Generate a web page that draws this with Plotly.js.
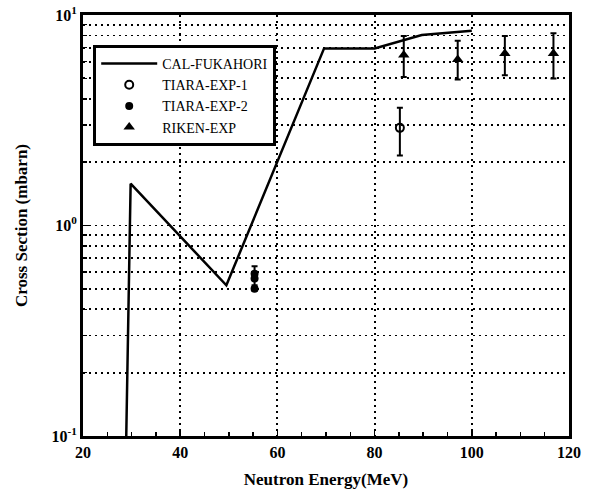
<!DOCTYPE html>
<html>
<head>
<meta charset="utf-8">
<script src="https://cdn.plot.ly/plotly-3.0.1.min.js"></script>
<style>html,body{margin:0;padding:0;background:#fff;}#chart{width:591px;height:493px;}</style>
</head>
<body>
<div id="chart"></div>
<script>
// CAL-FUKAHORI calculated curve
const calE = [28.9, 29.8, 49.5, 69.6, 80.0, 89.7, 100.0];
const calXS = [0.10, 1.58, 0.52, 6.94, 6.94, 8.03, 8.42];

// TIARA-EXP-1
const t1E = [85.2];
const t1XS = [2.91];
const t1ErrUp = [0.72];
const t1ErrDn = [0.76];

// TIARA-EXP-2
const t2E = [55.3, 55.3, 55.3];
const t2XS = [0.59, 0.56, 0.50];
const t2ErrUp = [0.05, 0.04, 0.01];
const t2ErrDn = [0.03, 0.04, 0.01];

// RIKEN-EXP
const rkE = [86.0, 97.1, 106.8, 116.8];
const rkXS = [6.45, 6.15, 6.57, 6.57];
const rkErrUp = [1.49, 1.40, 1.37, 1.61];
const rkErrDn = [1.37, 1.21, 1.39, 1.58];

// axis ticks
const xTicks = [20, 40, 60, 80, 100, 120];
const xTickText = ['20', '40', '60', '80', '100', '120'];
const yTickVals = [0.1, 1, 10];
const yTickText = ['10<sup>-1</sup>', '10<sup>0</sup>', '10<sup>1</sup>'];
const yMinorVals = [0.2,0.3,0.4,0.5,0.6,0.7,0.8,0.9,2,3,4,5,6,7,8,9];

const serif = '"Liberation Serif", "Times New Roman", Times, serif';
const dots = '2px,4px';

const traces = [
  {x: calE, y: calXS, mode: 'lines', name: 'CAL-FUKAHORI',
   line: {color: '#000', width: 2.5}},
  {x: t1E, y: t1XS, mode: 'markers', name: 'TIARA-EXP-1',
   marker: {symbol: 'circle-open', size: 8, color: '#000', line: {width: 2, color: '#000'}},
   error_y: {type: 'data', symmetric: false, array: t1ErrUp, arrayminus: t1ErrDn, color: '#000', thickness: 2, width: 3}},
  {x: t2E, y: t2XS, mode: 'markers', name: 'TIARA-EXP-2',
   marker: {symbol: 'circle', size: 8, color: '#000'},
   error_y: {type: 'data', symmetric: false, array: t2ErrUp, arrayminus: t2ErrDn, color: '#000', thickness: 2, width: 3}},
  {x: rkE, y: rkXS, mode: 'markers', name: 'RIKEN-EXP',
   marker: {symbol: 'triangle-up', size: 10, color: '#000'},
   error_y: {type: 'data', symmetric: false, array: rkErrUp, arrayminus: rkErrDn, color: '#000', thickness: 2, width: 3}}
];

const layout = {
  width: 591, height: 493,
  margin: {l: 83, r: 22, t: 15, b: 57},
  paper_bgcolor: '#fff', plot_bgcolor: '#fff',
  font: {family: serif, color: '#000', size: 14},
  showlegend: true,
  legend: {x: 0.021, y: 0.929, xanchor: 'left', yanchor: 'top',
    bgcolor: '#fff', bordercolor: '#000', borderwidth: 3,
    font: {family: serif, size: 14, color: '#000'},
    tracegroupgap: 0, itemwidth: 56},
  xaxis: {
    range: [20, 120], tickvals: xTicks, ticktext: xTickText.map(t => '<b>' + t + '</b>'),
    showgrid: true, gridcolor: '#000', griddash: dots, gridwidth: 1.8,
    zeroline: false, showline: true, mirror: true, linecolor: '#000', linewidth: 3,
    ticks: 'inside', ticklen: 6, tickwidth: 1.5, tickcolor: '#000',
    minor: {dtick: 5, ticks: 'inside', ticklen: 4, tickwidth: 1.5, tickcolor: '#000', showgrid: false},
    tickfont: {family: serif, size: 16, color: '#000'},
    title: {text: '<b>Neutron Energy(MeV)</b>', font: {family: serif, size: 17, color: '#000'}, standoff: 13}
  },
  yaxis: {
    type: 'log', range: [-1, 1], tickvals: yTickVals, ticktext: yTickText.map(t => '<b>' + t + '</b>'),
    showgrid: true, gridcolor: '#000', griddash: dots, gridwidth: 1.8,
    zeroline: false, showline: true, mirror: true, linecolor: '#000', linewidth: 3,
    ticks: 'inside', ticklen: 6, tickwidth: 1.5, tickcolor: '#000',
    minor: {tickvals: yMinorVals, ticks: 'inside', ticklen: 4, tickwidth: 1.5, tickcolor: '#000',
            showgrid: true, gridcolor: '#000', griddash: dots, gridwidth: 1.8},
    tickfont: {family: serif, size: 16, color: '#000'},
    title: {text: '<b>Cross Section (mbarn)</b>', font: {family: serif, size: 17, color: '#000'}, standoff: 20}
  }
};

Plotly.newPlot('chart', traces, layout, {displayModeBar: false, staticPlot: true});
</script>
</body>
</html>
